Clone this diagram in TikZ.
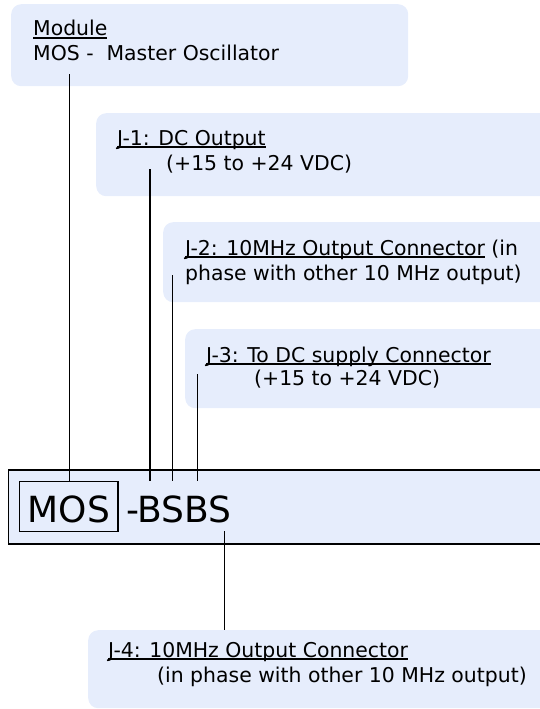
\documentclass[tikz,border=0pt]{standalone}
\usepackage{fontspec}
\setmainfont{DejaVu Sans}
\definecolor{panelblue}{RGB}{230,237,252}
\newcommand\myul[1]{\setbox0\hbox{#1}\rlap{\rule[-2.6pt]{\wd0}{1.2pt}}\copy0\relax}
\tikzset{
  panel/.style={fill=panelblue, draw=none, rounded corners=10pt, anchor=north west, inner sep=0pt},
  txt/.style={anchor=base west, inner sep=0pt, font=\fontsize{20.4}{25}\selectfont},
  bigtxt/.style={anchor=base west, inner sep=0pt, font=\fontsize{36}{40}\selectfont},
  wire/.style={draw=black, line width=1.9pt},
}
\begin{document}
\begin{tikzpicture}[x=1pt,y=-1pt]
\useasboundingbox (0,0) rectangle (540,709);
\clip (0,0) rectangle (540,709);
% panels
\node[panel, minimum width=397pt, minimum height=82pt] (modbox) at (11,4) {};
\node[panel, minimum width=470pt, minimum height=83pt] (j1box) at (96,113) {};
\node[panel, minimum width=400pt, minimum height=80pt] (j2box) at (163,222) {};
\node[panel, minimum width=380pt, minimum height=79pt] (j3box) at (185,329) {};
\node[panel, minimum width=480pt, minimum height=78pt] (j4box) at (88,630) {};
% main box
\node[fill=panelblue, draw=black, line width=1.7pt, anchor=north west, minimum width=560pt, minimum height=74pt, inner sep=0pt] (mainbox) at (7.5,469) {};
\node[fill=panelblue, draw=black, line width=1.3pt, anchor=north west, minimum width=98pt, inner xsep=8pt, inner ysep=0pt, text height=41pt, text depth=9pt, font=\fontsize{36}{40}\selectfont] (mosbox) at (19,481) {MOS};
\node[bigtxt] (suffix) at (126,522) {-BSBS};
% texts
\node[txt] (modA) at (33,36) {\myul{Module}};
\node[txt] (modB) at (33,61) {MOS -\ \ Master Oscillator};
\node[txt] (j1A) at (117,145) {\myul{J-1: DC Output}};
\node[txt] (j1B) at (166,170) {(+15 to +24 VDC)};
\node[txt] (j2A) at (185,255) {\myul{J-2: 10MHz Output Connector} (in};
\node[txt] (j2B) at (185,280) {phase with other 10 MHz output)};
\node[txt] (j3A) at (206,362) {\myul{J-3: To DC supply Connector}};
\node[txt] (j3B) at (254,385) {(+15 to +24 VDC)};
\node[txt] (j4A) at (108,657) {\myul{J-4: 10MHz Output Connector}};
\node[txt] (j4B) at (157,682) {(in phase with other 10 MHz output)};
% connector start points
\coordinate (s0) at (69.5,74);
\coordinate (s1) at (150,169);
\coordinate (s2) at (172.5,275);
\coordinate (s3) at (197.5,374);
\coordinate (s4) at (224.5,531);
% connectors
\draw[wire] (s0) -- (s0 |- mosbox.north);
\draw[wire] (s1) -- (s1 |- mosbox.north);
\draw[wire] (s2) -- (s2 |- mosbox.north);
\draw[wire] (s3) -- (s3 |- mosbox.north);
\draw[wire] (s4) -- (s4 |- j4box.north);
\end{tikzpicture}
\end{document}
